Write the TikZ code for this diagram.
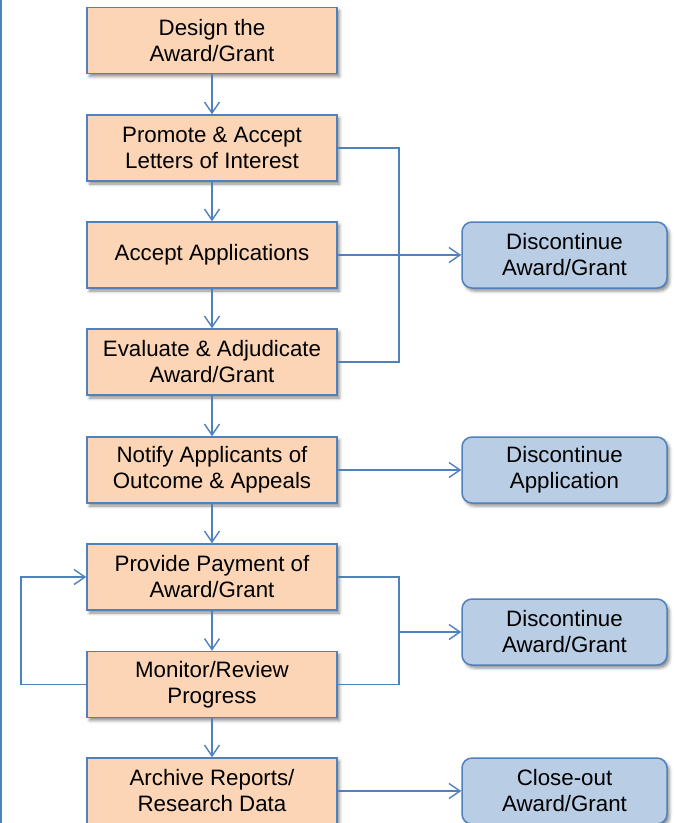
\documentclass[tikz,border=0pt]{standalone}
\usepackage{fontspec}
\setmainfont{Liberation Sans}
\usetikzlibrary{arrows.meta,shadows.blur}
\definecolor{lineblue}{HTML}{4F81BD}
\definecolor{orangefill}{HTML}{FBD5B5}
\definecolor{bluefill}{HTML}{B9CDE5}
\tikzset{
  stepbox/.style={draw=lineblue, line width=1.5pt, fill=orangefill,
    minimum width=250pt, minimum height=66pt, inner sep=0pt,
    align=center, font=\fontsize{22.3pt}{26pt}\selectfont,
    blur shadow={shadow xshift=2.5pt, shadow yshift=-3pt, shadow blur radius=3pt, shadow opacity=45}},
  endbox/.style={draw=lineblue, line width=1.5pt, fill=bluefill, rounded corners=10pt,
    minimum width=205pt, minimum height=66pt, inner sep=0pt,
    align=center, font=\fontsize{22.3pt}{26pt}\selectfont,
    blur shadow={shadow xshift=2.5pt, shadow yshift=-3pt, shadow blur radius=3pt, shadow opacity=45}},
  conn/.style={draw=lineblue, line width=1.4pt},
  arr/.style={conn, -{Straight Barb[length=11pt,width=15pt,line width=1.4pt]}}
}
\begin{document}
\begin{tikzpicture}[x=1pt,y=1pt]
\useasboundingbox (0,0) rectangle (675,-823);
\draw[lineblue, line width=2pt] (1,0) -- (1,-823);

\node[stepbox] (s1) at (212,-40.5) {Design the\\Award/Grant};
\node[stepbox] (s2) at (212,-148) {Promote \& Accept\\Letters of Interest};
\node[stepbox] (s3) at (212,-255) {Accept Applications};
\node[stepbox] (s4) at (212,-362) {Evaluate \& Adjudicate\\Award/Grant};
\node[stepbox] (s5) at (212,-470) {Notify Applicants of\\Outcome \& Appeals};
\node[stepbox] (s6) at (212,-577) {Provide Payment of\\Award/Grant};
\node[stepbox] (s7) at (212,-684.5) {Monitor/Review\\Progress};
\node[stepbox] (s8) at (212,-791) {Archive Reports/\\Research Data};

\node[endbox] (e1) at (564.5,-255) {Discontinue\\Award/Grant};
\node[endbox] (e2) at (564.5,-470) {Discontinue\\Application};
\node[endbox] (e3) at (564.5,-632) {Discontinue\\Award/Grant};
\node[endbox] (e4) at (564.5,-791) {Close-out\\Award/Grant};

\coordinate (j1) at (399,-255);
\coordinate (j3) at (399,-632);
\coordinate (loopx) at (21,0);

\draw[arr] (s1) -- (s2);
\draw[arr] (s2) -- (s3);
\draw[arr] (s3) -- (s4);
\draw[arr] (s4) -- (s5);
\draw[arr] (s5) -- (s6);
\draw[arr] (s6) -- (s7);
\draw[arr] (s7) -- (s8);

\draw[conn] (s2.east) -| (j1);
\draw[conn] (s4.east) -| (j1);
\draw[arr] (s3.east) -- (e1.west);

\draw[arr] (s5.east) -- (e2.west);

\draw[conn] (s6.east) -| (j3);
\draw[conn] (s7.east) -| (j3);
\draw[arr] (j3) -- (e3.west);

\draw[arr] (s8.east) -- (e4.west);

\draw[arr] (s7.west) -- (s7.west -| loopx) |- (s6.west);
\end{tikzpicture}
\end{document}
